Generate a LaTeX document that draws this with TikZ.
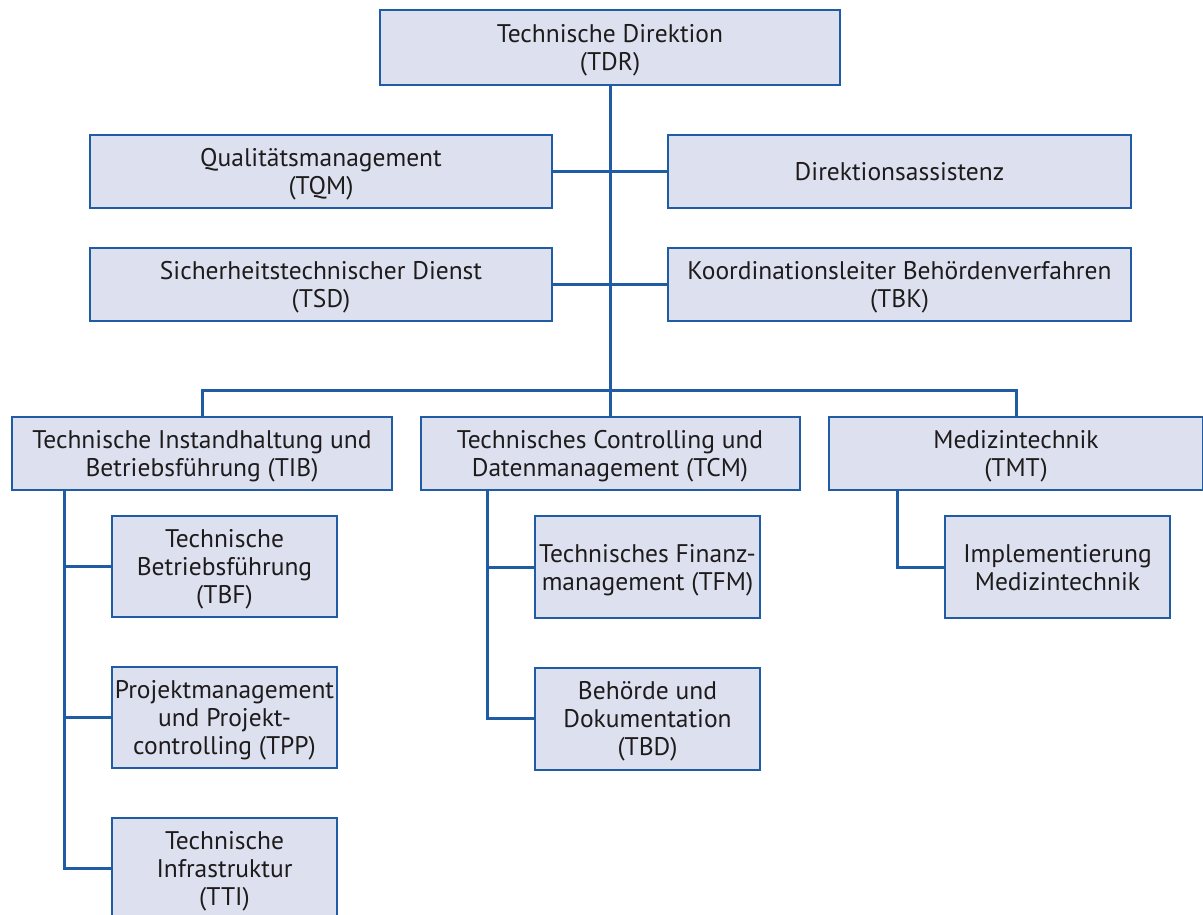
\documentclass[tikz,border=0pt]{standalone}
\usepackage{fontspec}
\setmainfont{PT Sans}
\definecolor{lineblue}{HTML}{1F5CA3}
\definecolor{boxfill}{HTML}{DDE1EF}
\definecolor{txt}{HTML}{1E1B1C}
\begin{document}
\begin{tikzpicture}[x=1pt,y=-1pt,
  box/.style={draw=lineblue, fill=boxfill, line width=2pt, align=center, inner sep=0pt,
    text=txt, font=\fontsize{25.5}{28}\selectfont},
  ml/.style={text depth=-8pt},
  conn/.style={draw=lineblue, line width=3pt}]
\clip (0,0) rectangle (1203,914);
\fill[white] (0,0) rectangle (1203,914);
% boxes
\node[box, ml, minimum width=460, minimum height=75] (TDR) at (610,47.5) {Technische Direktion\\(TDR)};
\node[box, ml, minimum width=462, minimum height=73] (TQM) at (321,171.5) {Qualitätsmanagement\\(TQM)};
\node[box, minimum width=463, minimum height=73] (DA) at (899.5,171.5) {Direktionsassistenz};
\node[box, ml, minimum width=462, minimum height=73] (TSD) at (321,284.5) {Sicherheitstechnischer Dienst\\(TSD)};
\node[box, ml, minimum width=463, minimum height=73] (TBK) at (899.5,284.5) {Koordinationsleiter Behördenverfahren\\(TBK)};
\node[box, ml, minimum width=380, minimum height=73] (TIB) at (202,453.5) {Technische Instandhaltung und\\Betriebsführung (TIB)};
\node[box, ml, minimum width=379, minimum height=73] (TCM) at (610,453.5) {Technisches Controlling und\\Datenmanagement (TCM)};
\node[box, ml, minimum width=374, minimum height=73] (TMT) at (1016,453.5) {Medizintechnik\\(TMT)};
\node[box, ml, minimum width=225, minimum height=101] (TBF) at (224.5,566.5) {Technische\\Betriebsführung\\(TBF)};
\node[box, ml, minimum width=225, minimum height=101] (TPP) at (224.5,717.5) {Projektmanagement\\und Projekt-\\controlling (TPP)};
\node[box, ml, minimum width=225, minimum height=101] (TTI) at (224.5,868.5) {Technische\\Infrastruktur\\(TTI)};
\node[box, ml, minimum width=225, minimum height=102] (TFM) at (647.5,567) {Technisches Finanz-\\management (TFM)};
\node[box, ml, minimum width=225, minimum height=102] (TBD) at (647.5,718.5) {Behörde und\\Dokumentation\\(TBD)};
\node[box, ml, minimum width=225, minimum height=102] (IM) at (1057.5,567) {Implementierung\\Medizintechnik};
% coordinates
\coordinate (bus) at (610,390);
\coordinate (tibx) at (64,490);
\coordinate (tcmx) at (487,490);
\coordinate (tmtx) at (897,490);
% connectors
\draw[conn] (TDR.south) -- (TCM.north);
\draw[conn] (TQM.east) -- (DA.west);
\draw[conn] (TSD.east) -- (TBK.west);
\draw[conn] (TIB.north) |- (bus) -| (TMT.north);
\draw[conn] (tibx) |- (TTI.west);
\draw[conn] (tibx |- TBF.west) -- (TBF.west);
\draw[conn] (tibx |- TPP.west) -- (TPP.west);
\draw[conn] (tcmx) |- (TBD.west);
\draw[conn] (tcmx |- TFM.west) -- (TFM.west);
\draw[conn] (tmtx) |- (IM.west);
\end{tikzpicture}
\end{document}
